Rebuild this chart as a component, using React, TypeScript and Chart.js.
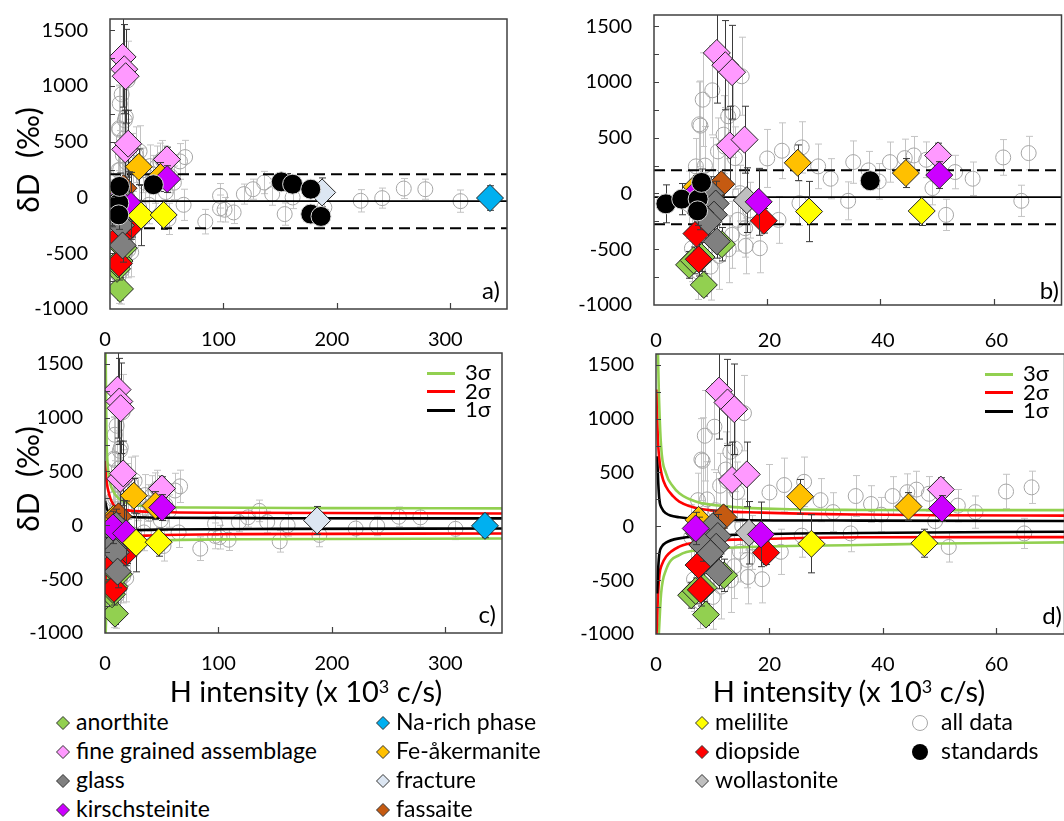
import React, { useEffect, useRef } from "react";
import { Chart, registerables } from "chart.js";

Chart.register(...registerables);

type Pt = [number, number, number]; // [H intensity (x10^3 c/s), δD (‰), error]
type XY = [number, number];

// ---------------- data ----------------
const anorthite: Pt[] = [[8.8, -820, 100], [6.2, -640, 120], [7.0, -600, 120], [8.4, -570, 130], [12.0, -455, 150]];
const fineGrained: Pt[] = [[11.1, 1260, 450], [12.6, 1150, 400], [13.8, 1087, 420], [13.4, 431, 350], [16.0, 482, 300], [50.2, 341, 110]];
const glass: Pt[] = [[10.0, 0, 150], [7.6, -65, 150], [10.9, -90, 200], [10.6, -190, 200], [8.2, -175, 150], [9.6, -250, 150], [11.1, -430, 150]];
const kirschsteinite: Pt[] = [[7.0, -20, 150], [18.5, -75, 300], [50.4, 165, 120]];
const naRich: Pt[] = [[335, -5, 110]];
const feAkermanite: Pt[] = [[7.5, 60, 100], [25.4, 275, 160], [44.5, 183, 130]];
const fracture: Pt[] = [[187, 45, 130]];
const fassaite: Pt[] = [[11.9, 83, 100]];
const melilite: Pt[] = [[27.4, -162, 270], [47.3, -157, 130]];
const diopside: Pt[] = [[19.4, -245, 110], [7.5, -360, 150], [7.9, -590, 150]];
const wollastonite: Pt[] = [[16.4, -60, 290]];
const standards: Pt[] = [[2.1, -93, 170], [4.9, -51, 140], [7.8, -51, 130], [7.7, -156, 130], [8.4, 99, 120], [38.2, 114, 0], [151, 140, 0], [161, 119, 0], [177, 74, 0], [177, -149, 0], [186, -170, 0]];
const allData: Pt[] = [
  [6.2, -100, 300], [6.7, -491, 300], [7.4, 243, 250], [7.8, -700, 250], [8.0, 620, 380], [8.2, 608, 400], [8.6, 841, 420],
  [9.0, 250, 350], [9.5, -300, 320], [10.0, -656, 300], [10.3, 925, 400], [10.5, 150, 350], [11.3, 377, 300], [11.5, -560, 300],
  [12.3, 527, 350], [12.5, 420, 350], [13.1, 692, 380], [13.2, -500, 300], [13.8, -371, 300], [13.9, 722, 400], [14.3, 317, 280],
  [14.8, -237, 280], [15.2, 3, 250], [15.5, 1051, 350], [16.1, -311, 260], [16.2, -470, 250], [17.0, -150, 250], [18.7, -491, 220],
  [20.0, 314, 260], [22.0, -237, 210], [22.6, 383, 250], [25.7, -87, 200], [26.1, 413, 230], [29.0, 243, 200], [31.2, 132, 180],
  [34.3, -66, 170], [35.2, 281, 190], [37.9, 207, 170], [39.7, 108, 160], [41.7, 281, 180], [44.3, 317, 170], [45.9, 341, 170],
  [48.1, 302, 160], [49.2, 48, 150], [51.6, -192, 140], [53.2, 192, 150], [56.3, 132, 150], [61.7, 323, 160], [64.9, -66, 140],
  [66.2, 362, 150], [84, -217, 110], [97, 15, 110], [97, -98, 120], [101, -110, 110], [109, -134, 100], [118, 30, 90], [126, 74, 90],
  [136, 134, 100], [143, 30, 100], [154, -149, 100], [161, 0, 100], [189, -89, 110], [221, -30, 100], [240, -6, 90], [259, 80, 90],
  [278, 74, 90], [309, -33, 100],
];

// mean and limits of the standards (panels a, b)
const meanDD = -33;
const upperDD = 209;
const lowerDD = -275;

// sigma envelopes, panel c
const c3Up: XY[] = [[0.6, 1600], [1.2, 900], [2, 620], [4, 420], [7, 320], [12, 250], [20, 205], [40, 175], [80, 165], [200, 160], [350, 157]];
const c2Up: XY[] = [[0, 598], [1.2, 427], [4.1, 272], [8.5, 179], [18.8, 141], [39, 126], [120, 116], [350, 110]];
const c1Up: XY[] = [[0, 225], [1.8, 148], [5.6, 101], [16, 79], [54, 70], [150, 66], [350, 64]];
const c1Low: XY[] = [[0, -256], [1.8, -132], [5.6, -85], [16, -54], [54, -39], [150, -33], [350, -30]];
const c2Low: XY[] = [[0, -628], [1.2, -380], [4.1, -225], [8.5, -157], [18.8, -116], [39, -95], [120, -82], [350, -76]];
const c3Low: XY[] = [[0.6, -1000], [1.8, -565], [4.1, -318], [8.5, -225], [18.8, -172], [39, -147], [120, -130], [350, -123]];

// sigma envelopes, panel d
const d3Up: XY[] = [[0.35, 1600], [0.5, 1250], [0.9, 742], [1.75, 494], [3, 370], [4.1, 307], [7, 230], [12.9, 183], [24.6, 158], [36.3, 152], [50, 150], [72, 150]];
const d2Up: XY[] = [[0.1, 1270], [0.3, 850], [0.6, 618], [1, 480], [1.75, 370], [3, 280], [4.1, 230], [8.2, 158], [18.7, 127], [36.3, 109], [50, 103], [72, 99]];
const d1Up: XY[] = [[0.2, 650], [0.4, 400], [0.6, 245], [1, 170], [1.75, 121], [4.1, 84], [12.9, 59], [36, 53], [72, 49]];
const d1Low: XY[] = [[0.2, -624], [0.4, -380], [0.6, -251], [1, -190], [1.75, -152], [4.1, -112], [12.9, -81], [36, -62], [72, -50]];
const d2Low: XY[] = [[0.1, -1000], [0.3, -700], [0.6, -453], [1, -360], [1.75, -283], [4.1, -189], [8.2, -143], [18.7, -118], [36, -102], [72, -100]];
const d3Low: XY[] = [[0.5, -1000], [0.9, -624], [1.75, -407], [4.1, -267], [8.2, -220], [18.7, -189], [36, -174], [50, -160], [72, -149]];

const yTicks = [-1000, -500, 0, 500, 1000, 1500];
const xTicksWide = [0, 100, 200, 300];
const xTicksZoom = [0, 20, 40, 60];

// ---------------- styling tables ----------------
const FONT = "Lato, 'Open Sans', sans-serif";

const categories = [
  { label: "anorthite", data: anorthite, color: "#92D050", order: 20 },
  { label: "fine grained assemblage", data: fineGrained, color: "#FF99FF", order: 19 },
  { label: "Fe-åkermanite", data: feAkermanite, color: "#FFC000", order: 18 },
  { label: "fassaite", data: fassaite, color: "#C55A11", order: 17 },
  { label: "fracture", data: fracture, color: "#DCE6F2", order: 16 },
  { label: "Na-rich phase", data: naRich, color: "#00B0F0", order: 16 },
  { label: "wollastonite", data: wollastonite, color: "#BFBFBF", order: 15 },
  { label: "diopside", data: diopside, color: "#FF0000", order: 14 },
  { label: "glass", data: glass, color: "#808080", order: 13 },
  { label: "kirschsteinite", data: kirschsteinite, color: "#CC00FF", order: 12 },
  { label: "melilite", data: melilite, color: "#FFFF00", order: 11 },
];
const colorOf = (l: string) => categories.find((c) => c.label === l)!.color;

const legendCols: string[][] = [
  ["anorthite", "fine grained assemblage", "glass", "kirschsteinite"],
  ["Na-rich phase", "Fe-åkermanite", "fracture", "fassaite"],
  ["melilite", "diopside", "wollastonite"],
];

interface PanelCfg {
  key: string; left: number; top: number; w: number; h: number;
  padTop: number; padRight: number; yW: number; xH: number; x2H: number;
  xMax: number; xTicks: number[]; bottomLabels: boolean; topLabels: boolean; mode: "std" | "sigma";
  curves?: XY[][];
}

const panels: PanelCfg[] = [
  { key: "a", left: 0, top: 0, w: 530, h: 330, padTop: 19, padRight: 23, yW: 110, xH: 21, x2H: 0, xMax: 350, xTicks: xTicksWide, bottomLabels: false, topLabels: false, mode: "std" },
  { key: "b", left: 544, top: 0, w: 532, h: 330, padTop: 15, padRight: 10, yW: 110, xH: 25, x2H: 0, xMax: 72, xTicks: xTicksZoom, bottomLabels: false, topLabels: false, mode: "std" },
  { key: "c", left: 0, top: 320, w: 530, h: 353, padTop: 0, padRight: 28, yW: 105, xH: 40, x2H: 33, xMax: 350, xTicks: xTicksWide, bottomLabels: true, topLabels: true, mode: "sigma", curves: [c3Up, c2Up, c1Up, c1Low, c2Low, c3Low] },
  { key: "d", left: 546, top: 320, w: 533, h: 354, padTop: 0, padRight: 10, yW: 110, xH: 40, x2H: 34, xMax: 72, xTicks: xTicksZoom, bottomLabels: true, topLabels: true, mode: "sigma", curves: [d3Up, d2Up, d1Up, d1Low, d2Low, d3Low] },
];
const curveColors = ["#92D050", "#FF0000", "#000000", "#000000", "#FF0000", "#92D050"];

// ---------------- plugin: error bars, frame, inner ticks ----------------
const decorPlugin = {
  id: "decor",
  beforeDatasetDraw(chart: any, args: any) {
    const ds = chart.data.datasets[args.index];
    if (!ds.errors) return;
    const { ctx, chartArea: ca } = chart;
    const ys = chart.scales.y;
    ctx.save();
    ctx.beginPath();
    ctx.rect(ca.left, ca.top, ca.right - ca.left, ca.bottom - ca.top);
    ctx.clip();
    ctx.strokeStyle = ds.errColor;
    ctx.lineWidth = 1;
    args.meta.data.forEach((el: any, j: number) => {
      const e = ds.errors[j];
      if (!e) return;
      const v = ds.data[j].y;
      const x = Math.round(el.x) + 0.5;
      const y1 = ys.getPixelForValue(v + e);
      const y2 = ys.getPixelForValue(v - e);
      ctx.beginPath();
      ctx.moveTo(x, y1); ctx.lineTo(x, y2);
      ctx.moveTo(x - 3.5, y1); ctx.lineTo(x + 3.5, y1);
      ctx.moveTo(x - 3.5, y2); ctx.lineTo(x + 3.5, y2);
      ctx.stroke();
    });
    ctx.restore();
  },
  afterDraw(chart: any) {
    const { ctx, chartArea: ca } = chart;
    const xs = chart.scales.x;
    const ys = chart.scales.y;
    ctx.save();
    ctx.strokeStyle = "#404040";
    ctx.lineWidth = 1.2;
    ctx.beginPath();
    xs.ticks.forEach((t: any) => {
      if (t.value <= xs.min || t.value >= xs.max) return;
      const x = Math.round(xs.getPixelForValue(t.value)) + 0.5;
      ctx.moveTo(x, ca.bottom); ctx.lineTo(x, ca.bottom - 6);
    });
    for (let v = ys.min + 250; v < ys.max; v += 250) {
      const y = Math.round(ys.getPixelForValue(v)) + 0.5;
      ctx.moveTo(ca.left, y); ctx.lineTo(ca.left + 5, y);
    }
    ctx.stroke();
    ctx.lineWidth = 1.5;
    ctx.strokeRect(ca.left, ca.top, ca.right - ca.left, ca.bottom - ca.top);
    ctx.restore();
  },
};

// ---------------- dataset builders ----------------
const pts = (arr: Pt[]) => arr.map((p) => ({ x: p[0], y: p[1] }));

function buildDatasets(p: PanelCfg) {
  const sets: any[] = [];
  sets.push({
    label: "all data", data: pts(allData), errors: allData.map((d) => d[2]), errColor: "#C4C4C4",
    pointStyle: "circle", pointRadius: 7.5, backgroundColor: "rgba(0,0,0,0)", borderColor: "#A6A6A6", borderWidth: 1, order: 100,
  });
  if (p.mode === "std") {
    const line = (v: number, dash: number[], w: number) => ({
      label: "limit", data: [{ x: 0, y: v }, { x: p.xMax, y: v }], showLine: true, pointRadius: 0,
      borderColor: "#000", borderWidth: w, borderDash: dash, order: 90,
    });
    sets.push(line(meanDD, [], 1.6));
    sets.push(line(upperDD, [11, 6], 2));
    sets.push(line(lowerDD, [11, 6], 2));
  } else {
    (p.curves || []).forEach((c, i) => {
      sets.push({
        label: "sigma", data: c.map(([x, y]) => ({ x, y })), showLine: true, pointRadius: 0,
        borderColor: curveColors[i], borderWidth: 2.6, cubicInterpolationMode: "monotone", order: 80 + i,
      });
    });
  }
  categories.forEach((c) => {
    sets.push({
      label: c.label, data: pts(c.data), errors: c.data.map((d) => d[2]), errColor: "#3A3A3A",
      pointStyle: "rectRot", pointRadius: 13.5, backgroundColor: c.color, borderColor: "#262626", borderWidth: 1, order: c.order,
    });
  });
  if (p.mode === "std") {
    sets.push({
      label: "standards", data: pts(standards), errors: standards.map((d) => d[2]), errColor: "#3A3A3A",
      pointStyle: "circle", pointRadius: 10, backgroundColor: "#000", borderColor: "#D9D9D9", borderWidth: 1, order: 5,
    });
  }
  return sets;
}

function buildConfig(p: PanelCfg): any {
  const tickFont = { family: FONT, size: 20 };
  const xAxis = (position: "bottom" | "top", show: boolean, height: number) => ({
    type: "linear", axis: "x", position, display: true, min: 0, max: p.xMax,
    afterBuildTicks: (s: any) => { s.ticks = p.xTicks.map((v) => ({ value: v })); },
    afterFit: (s: any) => { s.height = height; s.paddingLeft = 0; s.paddingRight = 0; },
    grid: { display: false, drawTicks: false }, border: { display: false },
    ticks: { display: show, padding: position === "bottom" ? 19 : 1, font: tickFont, color: "#000", maxRotation: 0, autoSkip: false, callback: (v: any) => String(v) },
  });
  const scales: any = {
    x: xAxis("bottom", p.bottomLabels, p.xH),
    y: {
      type: "linear", position: "left", min: -1000, max: 1600,
      afterBuildTicks: (s: any) => { s.ticks = yTicks.map((v) => ({ value: v })); },
      afterFit: (s: any) => { s.width = p.yW; s.paddingTop = 0; s.paddingBottom = 0; },
      grid: { display: false, drawTicks: false }, border: { display: false },
      ticks: { padding: 22, font: tickFont, color: "#000", autoSkip: false, callback: (v: any) => String(v) },
    },
  };
  if (p.x2H) scales.x2 = xAxis("top", p.topLabels, p.x2H);
  return {
    type: "scatter",
    data: { datasets: buildDatasets(p) },
    options: {
      responsive: false, animation: false, events: [],
      layout: { padding: { left: 0, top: p.padTop, right: p.padRight, bottom: 0 } },
      plugins: { legend: { display: false }, tooltip: { enabled: false } },
      scales,
    },
    plugins: [decorPlugin],
  };
}

function Panel({ p }: { p: PanelCfg }) {
  const ref = useRef<HTMLCanvasElement>(null);
  useEffect(() => {
    const chart = new Chart(ref.current as HTMLCanvasElement, buildConfig(p));
    return () => chart.destroy();
  }, []);
  return (
    <canvas ref={ref} width={p.w} height={p.h}
      style={{ position: "absolute", left: p.left, top: p.top, width: p.w, height: p.h }} />
  );
}

// ---------------- HTML annotations ----------------
const txt = (s: React.CSSProperties): React.CSSProperties => ({
  position: "absolute", fontFamily: FONT, color: "#000", whiteSpace: "pre", lineHeight: 1, ...s,
});

function Diamond({ color, x, y }: { color: string; x: number; y: number }) {
  return (
    <svg width={16} height={16} style={{ position: "absolute", left: x - 8, top: y - 8 }}>
      <polygon points="8,1.5 14.5,8 8,14.5 1.5,8" fill={color} stroke="#333" strokeWidth={1} />
    </svg>
  );
}

function SigmaLegend({ x, y0 }: { x: number; y0: number }) {
  const rows = [["3σ", "#92D050"], ["2σ", "#FF0000"], ["1σ", "#000000"]];
  return (
    <>
      {rows.map(([t, c], i) => (
        <React.Fragment key={t}>
          <div style={{ position: "absolute", left: x, top: y0 + i * 18.5 - 1.5, width: 28, height: 3, background: c }} />
          <div style={txt({ left: x + 38, top: y0 + i * 18.5, fontSize: 22, transform: "translateY(-55%)" })}>{t}</div>
        </React.Fragment>
      ))}
    </>
  );
}

export default function App() {
  const colX = [63, 383, 702];
  const rowY = [723, 752, 781, 810];
  return (
    <div style={{ position: "absolute", left: 0, top: 0, width: 1064, height: 821, overflow: "hidden", background: "#fff" }}>
      {panels.map((p) => <Panel key={p.key} p={p} />)}

      <div style={txt({ left: 27, top: 160, fontSize: 30, transform: "translate(-50%,-50%) rotate(-90deg)" })}>{"δD  (‰)"}</div>
      <div style={txt({ left: 27, top: 479, fontSize: 30, transform: "translate(-50%,-50%) rotate(-90deg)" })}>{"δD  (‰)"}</div>

      <div style={txt({ left: 306, top: 690, fontSize: 29, transform: "translate(-50%,-50%)" })}>H intensity (x 10<sup style={{ fontSize: 18, verticalAlign: "9px" }}>3</sup> c/s)</div>
      <div style={txt({ left: 849, top: 690, fontSize: 29, transform: "translate(-50%,-50%)" })}>H intensity (x 10<sup style={{ fontSize: 18, verticalAlign: "9px" }}>3</sup> c/s)</div>

      <div style={txt({ left: 500, top: 290, fontSize: 24, transform: "translate(-100%,-50%)" })}>a)</div>
      <div style={txt({ left: 1059, top: 290, fontSize: 24, transform: "translate(-100%,-50%)" })}>b)</div>
      <div style={txt({ left: 496, top: 614, fontSize: 24, transform: "translate(-100%,-50%)" })}>c)</div>
      <div style={txt({ left: 1062, top: 615, fontSize: 24, transform: "translate(-100%,-50%)" })}>d)</div>

      <SigmaLegend x={427} y0={373} />
      <SigmaLegend x={985} y0={374} />

      {legendCols.map((col, ci) =>
        col.map((label, ri) => (
          <React.Fragment key={label}>
            <Diamond color={colorOf(label)} x={colX[ci]} y={rowY[ri]} />
            <div style={txt({ left: colX[ci] + 13, top: rowY[ri], fontSize: 23, transform: "translateY(-55%)" })}>{label}</div>
          </React.Fragment>
        ))
      )}
      <svg width={20} height={20} style={{ position: "absolute", left: 910, top: 713 }}>
        <circle cx={10} cy={10} r={7.5} fill="#fff" stroke="#A6A6A6" strokeWidth={1} />
      </svg>
      <div style={txt({ left: 941, top: 723, fontSize: 23, transform: "translateY(-55%)" })}>all data</div>
      <svg width={20} height={20} style={{ position: "absolute", left: 910, top: 742 }}>
        <circle cx={10} cy={10} r={8} fill="#000" />
      </svg>
      <div style={txt({ left: 941, top: 752, fontSize: 23, transform: "translateY(-55%)" })}>standards</div>
    </div>
  );
}
